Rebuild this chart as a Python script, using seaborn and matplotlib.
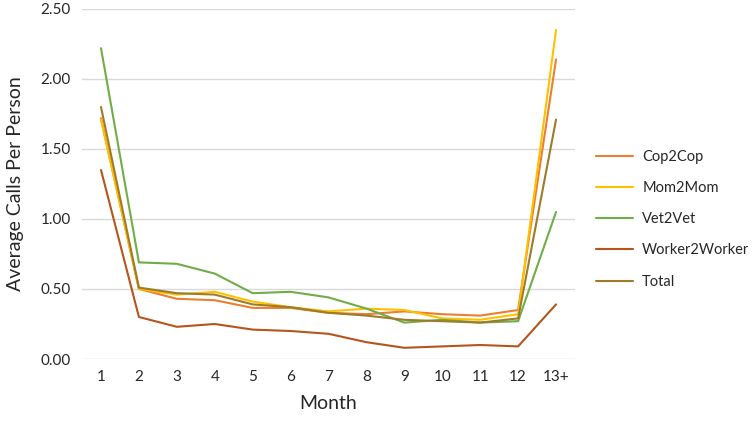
import matplotlib
matplotlib.use('Agg')
import matplotlib.pyplot as plt
import pandas as pd
import seaborn as sns

# Data
months = ['1', '2', '3', '4', '5', '6', '7', '8', '9', '10', '11', '12', '13+']
cop2cop = [1.72, 0.50, 0.43, 0.42, 0.365, 0.365, 0.33, 0.32, 0.34, 0.32, 0.31, 0.35, 2.14]
mom2mom = [1.71, 0.50, 0.46, 0.48, 0.41, 0.37, 0.34, 0.36, 0.35, 0.29, 0.28, 0.32, 2.35]
vet2vet = [2.22, 0.69, 0.68, 0.61, 0.47, 0.48, 0.44, 0.36, 0.26, 0.28, 0.26, 0.27, 1.05]
worker2worker = [1.35, 0.30, 0.23, 0.25, 0.21, 0.20, 0.18, 0.12, 0.08, 0.09, 0.10, 0.09, 0.39]
total = [1.80, 0.51, 0.47, 0.46, 0.39, 0.37, 0.33, 0.31, 0.28, 0.27, 0.26, 0.29, 1.71]

series = {'Cop2Cop': cop2cop, 'Mom2Mom': mom2mom, 'Vet2Vet': vet2vet,
          'Worker2Worker': worker2worker, 'Total': total}
colors = ['#ED7D31', '#FFC000', '#70AD47', '#B5541C', '#9E7B28']

rows = []
for name, vals in series.items():
    for i, v in enumerate(vals):
        rows.append({'pos': i, 'Month': months[i], 'value': v, 'program': name})
df = pd.DataFrame(rows)

sns.set_style('white')
plt.rcParams['font.family'] = ['Lato', 'DejaVu Sans']
plt.rcParams['text.color'] = '#262626'

fig = plt.figure(figsize=(7.54, 4.24), dpi=100)
ax = fig.add_axes([0.1088, 0.1533, 0.6538, 0.8255])

sns.lineplot(data=df, x='pos', y='value', hue='program', palette=colors,
             linewidth=1.5, ax=ax, legend=True)

ax.set_xlim(-0.5, 12.5)
ax.set_ylim(0, 2.5)
ax.set_xticks(range(len(months)))
ax.set_xticklabels(months)
ax.set_yticks([0, 0.5, 1.0, 1.5, 2.0, 2.5])
ax.set_yticklabels(['0.00', '0.50', '1.00', '1.50', '2.00', '2.50'])
ax.tick_params(axis='both', labelsize=11, colors='#262626', length=0, pad=8)
ax.yaxis.grid(True, color='#D9D9D9', linewidth=1)
ax.set_axisbelow(True)
for s in ax.spines.values():
    s.set_visible(False)

ax.set_xlabel('Month', fontsize=14, color='#262626', labelpad=8)
ax.set_ylabel('Average Calls Per Person', fontsize=14, color='#262626', labelpad=12)

ax.legend(loc='upper left', bbox_to_anchor=(1.015, 0.635), frameon=False,
          fontsize=10.5, handlelength=2.6, handletextpad=0.6,
          labelspacing=1.18, title=None)

fig.savefig('out.png', dpi=100)
